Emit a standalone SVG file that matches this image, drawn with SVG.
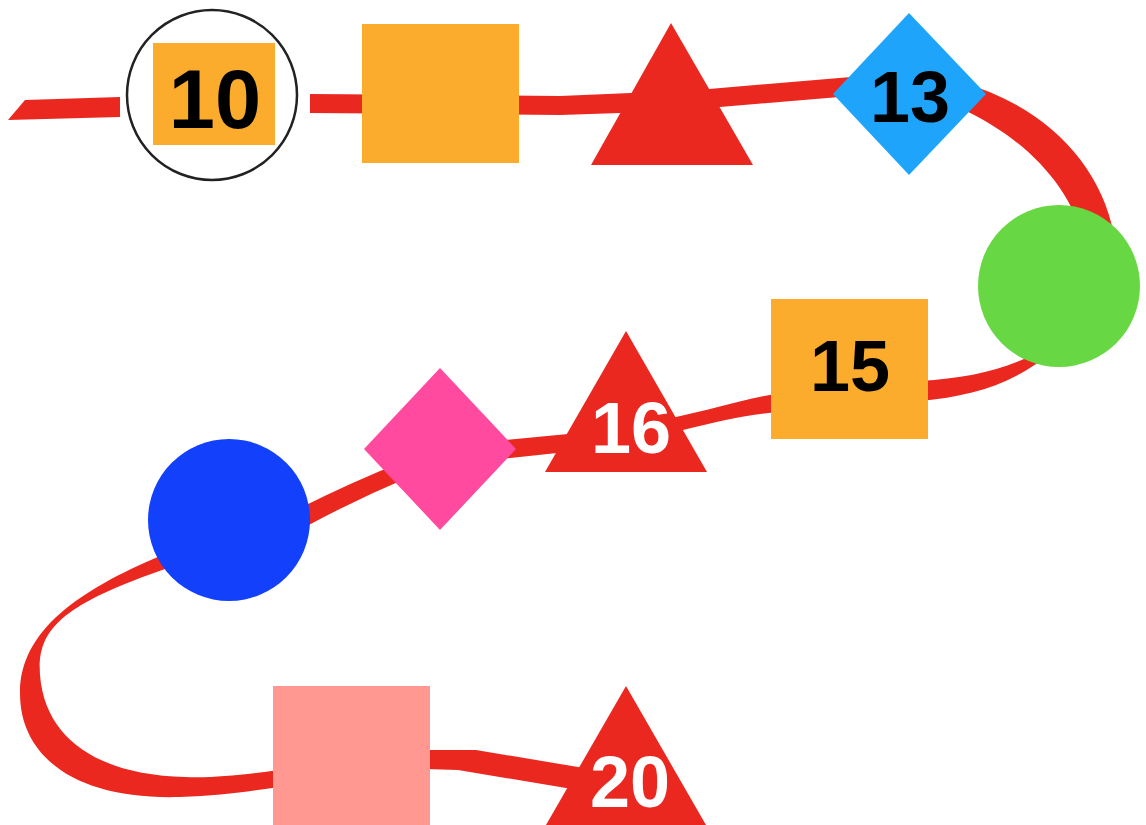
<svg xmlns="http://www.w3.org/2000/svg" width="1146" height="825" viewBox="0 0 1146 825">
<style>
.rib{fill:#EA2820;stroke:none}
.lbl{font-family:"Liberation Sans",Arial,sans-serif;font-weight:bold;text-anchor:middle}
.dk{fill:#000}
.wt{fill:#fff}
.org{fill:#FBAC2D}
.red{fill:#EA2820}
</style>
<rect x="0" y="0" width="1146" height="825" fill="#fff"/>
<g id="connectors">
<path class="rib" d="M8,120 L25,100 L120,97 L120,117 Z"/>
<path class="rib" d="M310,94 L560,96 L631,93 L709,89 L851,77 L851,96 L720,107 L620,113 L560,115 L310,113 Z"/>
<path class="rib" d="M960,82 C1040,104 1100,160 1114,235 L1082,235 C1070,190 1030,140 960,108 Z"/>
<path class="rib" d="M1052,352 C1012,385 972,396 920,401 L920,381 C968,378 1005,370 1038,352 Z"/>
<path class="rib" d="M780,393 C740,400 710,410 676,417 C630,428 600,431 568,434 L505,440 L500,459 L557,453 C600,447 640,440 683,430 C720,421 750,414 780,412 Z"/>
<path class="rib" d="M402,462 Q352,482 300,508 L305,527 Q355,500 407,478 Z"/>
<path class="rib" d="M160,556 C80,590 20,630 20,693 C20,760 80,800 180,797 C220,796 250,791 280,787 L280,770 C240,775 215,778 185,777 C100,775 45,740 40,675 C37,630 60,605 168,568 Z"/>
<path class="rib" d="M425,750 L476,750 L578,767 L600,772 L600,792 L566,788 L458,770 L425,769 Z"/>
</g>
<g id="node10">
<circle cx="212" cy="95" r="85" fill="#fff" stroke="#222" stroke-width="2.5"/>
<rect class="org" x="153" y="43" width="122" height="102"/>
<text class="lbl dk" x="215" y="128" font-size="83">10</text>
</g>
<g id="node11">
<rect class="org" x="362" y="24" width="157" height="139"/>
</g>
<g id="node12">
<polygon class="red" points="671,23 591,165 753,165"/>
</g>
<g id="node13">
<polygon fill="#1EA5FB" points="909,13 986,94 909,175 833,94"/>
<text class="lbl dk" x="910" y="122" font-size="72">13</text>
</g>
<g id="node14">
<circle cx="1059" cy="286" r="81" fill="#67D843"/>
</g>
<g id="node15">
<rect class="org" x="771" y="299" width="157" height="140"/>
<text class="lbl dk" x="850" y="391" font-size="72">15</text>
</g>
<g id="node16">
<polygon class="red" points="626,331 545,472 707,472"/>
<text class="lbl wt" x="631" y="453" font-size="72">16</text>
</g>
<g id="node17">
<polygon fill="#FF4AA0" points="440,368 516,449 440,530 364,449"/>
</g>
<g id="node18">
<circle cx="229" cy="520" r="81" fill="#1240FB"/>
</g>
<g id="node19">
<rect x="273" y="686" width="157" height="139" fill="#FE9890"/>
</g>
<g id="node20">
<polygon class="red" points="626,686 546,825 706,825"/>
<text class="lbl wt" x="630" y="807" font-size="72">20</text>
</g>
</svg>
